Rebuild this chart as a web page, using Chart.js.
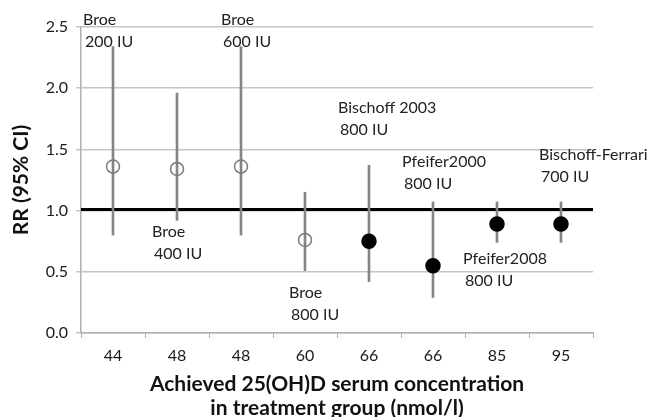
<!DOCTYPE html>
<html>
<head>
<meta charset="utf-8">
<script src="https://cdn.jsdelivr.net/npm/chart.js@4"></script>
<style>
  html, body { margin: 0; padding: 0; background: #fff; }
  #wrap { width: 649px; height: 417px; }
</style>
</head>
<body>
<div id="wrap"><canvas id="rrChart" width="649" height="417"></canvas></div>
<script>
// achieved 25(OH)D in treatment group (nmol/l)
const serumLabels = ["44", "48", "48", "60", "66", "66", "85", "95"];
// relative risk and 95% CI
const rr = [1.36, 1.34, 1.36, 0.76, 0.75, 0.55, 0.89, 0.89];
const ciLow = [0.80, 0.92, 0.80, 0.51, 0.42, 0.29, 0.74, 0.74];
const ciHigh = [2.34, 1.96, 2.34, 1.15, 1.37, 1.07, 1.07, 1.07];
// open marker = Broe, filled = the other trials
const filledMarker = [false, false, false, false, true, true, true, true];
const yTicks = [0, 0.5, 1.0, 1.5, 2.0, 2.5];
const refRR = 1.01;

// study labels: name, dose
const studyNames = ["Broe", "Broe", "Broe", "Broe", "Bischoff 2003", "Pfeifer2000", "Pfeifer2008", "Bischoff-Ferrari"];
const studyDoses = ["200 IU", "400 IU", "600 IU", "800 IU", "800 IU", "800 IU", "800 IU", "700 IU"];

// where each label goes: category index, pixel shift, y value of first line
const labelPlace = [
    { cat: 0, dx: -30, y: 2.557 },
    { cat: 1, dx: -25, y: 0.823 },
    { cat: 2, dx: -20, y: 2.557 },
    { cat: 3, dx: -16, y: 0.325 },
    { cat: 4, dx: -31, y: 1.837 },
    { cat: 5, dx: -31, y: 1.396 },
    { cat: 6, dx: -34, y: 0.603 },
    { cat: 7, dx: -22, y: 1.453 },
];

const FONT = "Lato, 'Open Sans', sans-serif";

// thick line at RR = 1
const refLinePlugin = {
    id: "refLine",
    beforeDatasetsDraw(chart) {
        const { ctx, chartArea, scales } = chart;
        const y = scales.y.getPixelForValue(refRR);
        ctx.save();
        ctx.strokeStyle = "#000";
        ctx.lineWidth = 3;
        ctx.beginPath();
        ctx.moveTo(chartArea.left, y);
        ctx.lineTo(chartArea.right, y);
        ctx.stroke();
        ctx.restore();
    },
};

// study name + dose text
const studyLabelPlugin = {
    id: "studyLabels",
    afterDraw(chart) {
        const { ctx, scales } = chart;
        ctx.save();
        ctx.font = "16px " + FONT;
        ctx.fillStyle = "#222";
        ctx.textAlign = "left";
        ctx.textBaseline = "middle";
        labelPlace.forEach((p, i) => {
            const x = scales.x.getPixelForValue(p.cat) + p.dx;
            const y = scales.y.getPixelForValue(p.y);
            ctx.fillText(studyNames[i], x, y);
            ctx.fillText(studyDoses[i], x + 2, y + 22);
        });
        ctx.restore();
    },
};

const ctx = document.getElementById("rrChart").getContext("2d");
const chart = new Chart(ctx, {
    type: "bar",
    data: {
        labels: serumLabels,
        datasets: [
            {
                type: "line",
                label: "RR",
                data: rr,
                showLine: false,
                pointRadius: filledMarker.map(f => (f ? 7 : 6.5)),
                pointHoverRadius: 6,
                pointBorderWidth: 1.5,
                pointBackgroundColor: filledMarker.map(f => (f ? "#000" : "rgba(0,0,0,0)")),
                pointBorderColor: filledMarker.map(f => (f ? "#000" : "#7a7a7a")),
            },
            {
                label: "95% CI",
                data: ciLow.map((lo, i) => [lo, ciHigh[i]]),
                backgroundColor: "#858585",
                barThickness: 2,
                borderSkipped: false,
            },
        ],
    },
    plugins: [refLinePlugin, studyLabelPlugin],
    options: {
        responsive: false,
        animation: false,
        layout: { padding: { top: 27, right: 56, left: 0, bottom: 0 } },
        plugins: {
            legend: { display: false },
            tooltip: { enabled: false },
        },
        scales: {
            x: {
                offset: true,
                grid: {
                    offset: true,
                    drawOnChartArea: false,
                    tickLength: 5,
                    color: "#b0b0b0",
                },
                border: { color: "#b0b0b0", width: 1.5 },
                ticks: {
                    padding: 8,
                    color: "#1a1a1a",
                    font: { family: FONT, size: 16 },
                },
                title: {
                    display: true,
                    text: ["Achieved 25(OH)D serum concentration", "in treatment group (nmol/l)"],
                    color: "#111",
                    font: { family: FONT, size: 21, weight: "bold", lineHeight: "24px" },
                    padding: { top: 0, bottom: -3 },
                },
                afterFit(scale) { scale.height = 84; },
            },
            y: {
                min: 0,
                max: 2.5,
                afterBuildTicks(scale) { scale.ticks = yTicks.map(v => ({ value: v })); },
                grid: {
                    color: "#c4c4c4",
                    lineWidth: 1.5,
                    tickLength: 5,
                },
                border: { color: "#b0b0b0", width: 1.5 },
                ticks: {
                    padding: 8,
                    color: "#1a1a1a",
                    font: { family: FONT, size: 16 },
                    callback: v => Number(v).toFixed(1),
                },
                title: {
                    display: true,
                    text: "RR (95% CI)",
                    color: "#111",
                    font: { family: FONT, size: 21, weight: "bold" },
                    padding: { top: 9, bottom: 0 },
                },
                afterFit(scale) { scale.width = 81; },
            },
        },
    },
});
</script>
</body>
</html>
